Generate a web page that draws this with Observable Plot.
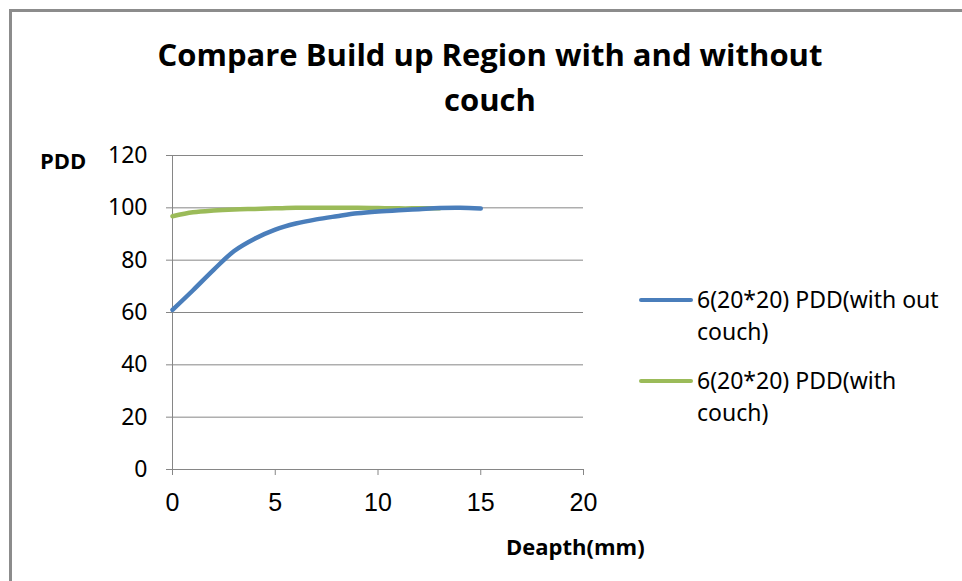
<!DOCTYPE html>
<html>
<head>
<meta charset="utf-8">
<script src="https://cdn.jsdelivr.net/npm/d3@7"></script>
<script src="https://cdn.jsdelivr.net/npm/@observablehq/plot@0.6"></script>
<style>
  html, body { margin: 0; padding: 0; background: #fff; }
  #wrap { position: relative; width: 962px; height: 581px; overflow: hidden; }
  #frame { position: absolute; left: 9px; top: 9px; width: 1000px; height: 1000px;
           border-top: 3px solid #8c8c8c; border-left: 3px solid #8c8c8c; box-sizing: border-box; }
  #chart { position: absolute; left: 0; top: 0; }
  .title { position: absolute; left: 90px; width: 800px; text-align: center;
           font-family: "Open Sans", sans-serif; font-weight: 700; font-size: 31px; color: #000; line-height: 45px; }
  .lab { position: absolute; font-family: "Open Sans", sans-serif; font-weight: 700; font-size: 22px; color: #000; white-space: nowrap; }
  .leg { position: absolute; font-family: "Noto Sans", sans-serif; font-size: 23px; color: #000; line-height: 32px; white-space: nowrap; }
  .sw { position: absolute; height: 4px; border-radius: 2px; }
</style>
</head>
<body>
<div id="wrap">
  <div id="frame"></div>
  <div id="chart"></div>
  <div class="title" style="top:32px;">Compare Build up Region with and without<br>couch</div>
  <div class="lab" style="left:40px; top:145px;">PDD</div>
  <div class="lab" style="left:506px; top:531px;">Deapth(mm)</div>
  <div class="sw" style="left:639px; top:298px; width:54px; background:#4a7ebb;"></div>
  <div class="leg" style="left:697px; top:283px;">6(20*20) PDD(with out<br>couch)</div>
  <div class="sw" style="left:639px; top:379px; width:54px; background:#9bbb59;"></div>
  <div class="leg" style="left:697px; top:364px;">6(20*20) PDD(with<br>couch)</div>
</div>
<script>
const depthWithout = [0, 1, 2, 3, 4, 5, 6, 7, 8, 9, 10, 11, 12, 13, 14, 15];
const pddWithout   = [61, 68.5, 76.3, 83.5, 88.2, 91.7, 94, 95.6, 96.8, 97.9, 98.6, 99.1, 99.5, 99.9, 100, 99.7];
const depthWith    = [0, 1, 2, 3, 4, 5, 6, 7, 8, 9, 10, 11, 12, 13];
const pddWith      = [96.8, 98.3, 99, 99.4, 99.6, 99.8, 100, 100, 100, 100, 99.9, 99.8, 99.8, 99.8];
const xTicks = [0, 5, 10, 15, 20];
const yTicks = [0, 20, 40, 60, 80, 100, 120];

const seriesWithout = depthWithout.map((d, i) => ({depth: d, pdd: pddWithout[i]}));
const seriesWith = depthWith.map((d, i) => ({depth: d, pdd: pddWith[i]}));

const gray = "#868686";
const chart = Plot.plot({
  width: 962,
  height: 581,
  marginLeft: 172,
  marginRight: 379,
  marginTop: 155,
  marginBottom: 112,
  x: {domain: [0, 20]},
  y: {domain: [0, 120]},
  marks: [
    Plot.gridY(yTicks, {stroke: gray, strokeOpacity: 1, strokeWidth: 1}),
    Plot.ruleX([0], {stroke: gray, strokeWidth: 1}),
    Plot.axisY(yTicks, {tickSize: 6, tickPadding: 19, stroke: gray, strokeOpacity: 1, label: null,
      fontSize: 23, fontFamily: "Noto Sans", fill: "#000"}),
    Plot.axisX(xTicks, {tickSize: 6, tickPadding: 18, stroke: gray, strokeOpacity: 1, label: null,
      fontSize: 25, fontFamily: "Liberation Sans", fill: "#000"}),
    Plot.line(seriesWith, {x: "depth", y: "pdd", stroke: "#9bbb59", strokeWidth: 4.5, curve: "catmull-rom"}),
    Plot.line(seriesWithout, {x: "depth", y: "pdd", stroke: "#4a7ebb", strokeWidth: 4.5, curve: "catmull-rom"})
  ]
});
document.getElementById("chart").appendChild(chart);
</script>
</body>
</html>
